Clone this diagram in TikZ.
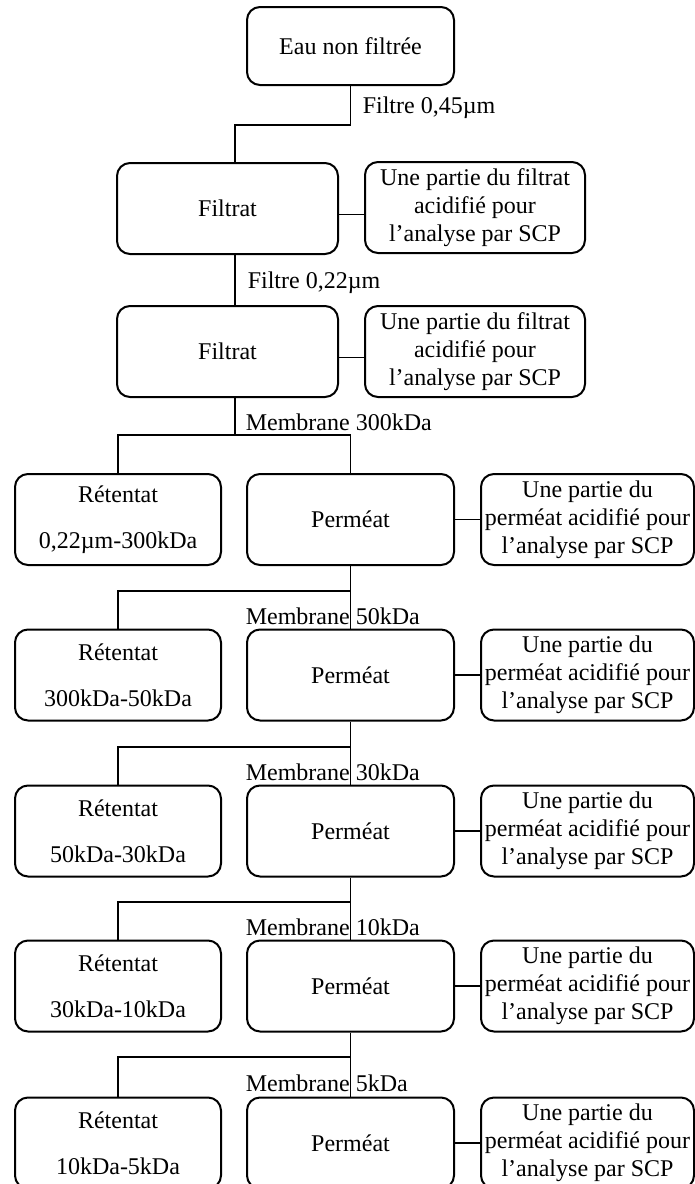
\documentclass[tikz,border=0pt]{standalone}
\usepackage{fontspec}
\setmainfont{Liberation Serif}
\begin{document}
\begin{tikzpicture}[x=0.5pt, y=-0.5pt,
                    line width=0.8pt,
                    every node/.style={font=\fontsize{12}{14}\selectfont},
                    boite/.style={draw, rounded corners=6.5pt, line width=1pt,
                                  align=center, inner sep=1pt, minimum height=45.5pt},
                    etiquette/.style={anchor=west, inner sep=0pt}]
      \useasboundingbox (0,0) rectangle (695,1184);
      \coordinate (tige) at (235,125);
      \coordinate (m1) at (235,435);
      \coordinate (m2) at (350.5,591);
      \coordinate (m3) at (350.5,747);
      \coordinate (m4) at (350.5,902);
      \coordinate (m5) at (350.5,1057);
      % filtration
      \node[boite, minimum width=103.5pt, minimum height=39pt] (eau) at (350.5,46) {Eau non filtrée};
      \node[boite, minimum width=110.5pt] (filtrat1) at (227.5,208.5) {Filtrat};
      \node[boite, minimum width=110pt] (analyse1) at (475,207.5) {Une partie du filtrat\\acidifié pour\\l’analyse par SCP};
      \node[boite, minimum width=110.5pt] (filtrat2) at (227.5,351.5) {Filtrat};
      \node[boite, minimum width=110pt] (analyse2) at (475,351.5) {Une partie du filtrat\\acidifié pour\\l’analyse par SCP};
      \node[etiquette] (filtre45) at (362,108) {Filtre 0,45µm};
      \node[etiquette] (filtre22) at (247,283) {Filtre 0,22µm};
      % ultrafiltration
      \node[boite, minimum width=103pt] (ret1) at (118,519.5) {Rétentat\\[9pt]0,22µm-300kDa};
      \node[boite, minimum width=103.5pt] (per1) at (350.5,519.5) {Perméat};
      \node[boite, minimum width=106.5pt] (analyse3) at (587.5,519.5) {Une partie du\\perméat acidifié pour\\l’analyse par SCP};
      \node[boite, minimum width=103pt] (ret2) at (118,675) {Rétentat\\[9pt]300kDa-50kDa};
      \node[boite, minimum width=103.5pt] (per2) at (350.5,675) {Perméat};
      \node[boite, minimum width=106.5pt] (analyse4) at (587.5,675) {Une partie du\\perméat acidifié pour\\l’analyse par SCP};
      \node[boite, minimum width=103pt] (ret3) at (118,831) {Rétentat\\[9pt]50kDa-30kDa};
      \node[boite, minimum width=103.5pt] (per3) at (350.5,831) {Perméat};
      \node[boite, minimum width=106.5pt] (analyse5) at (587.5,831) {Une partie du\\perméat acidifié pour\\l’analyse par SCP};
      \node[boite, minimum width=103pt] (ret4) at (118,986) {Rétentat\\[9pt]30kDa-10kDa};
      \node[boite, minimum width=103.5pt] (per4) at (350.5,986) {Perméat};
      \node[boite, minimum width=106.5pt] (analyse6) at (587.5,986) {Une partie du\\perméat acidifié pour\\l’analyse par SCP};
      \node[boite, minimum width=103pt] (ret5) at (118,1143) {Rétentat\\[9pt]10kDa-5kDa};
      \node[boite, minimum width=103.5pt] (per5) at (350.5,1143) {Perméat};
      \node[boite, minimum width=106.5pt] (analyse7) at (587.5,1143) {Une partie du\\perméat acidifié pour\\l’analyse par SCP};
      \node[etiquette] (mem300) at (245,422) {Membrane 300kDa};
      \node[etiquette] (mem50) at (245,616) {Membrane 50kDa};
      \node[etiquette] (mem30) at (245,772) {Membrane 30kDa};
      \node[etiquette] (mem10) at (245,927) {Membrane 10kDa};
      \node[etiquette] (mem5) at (245,1083) {Membrane 5kDa};
      % liaisons
      \draw (eau) |- (tige) -- (tige |- filtrat1.north);
      \draw ([yshift=-3pt]filtrat1.east) -- ([yshift=-3pt]filtrat1.east -| analyse1.west);
      \draw (tige |- filtrat1.south) -- (tige |- filtrat2.north);
      \draw ([yshift=-3pt]filtrat2.east) -- ([yshift=-3pt]filtrat2.east -| analyse2.west);
      \draw (m1 |- filtrat2.south) -- (m1);
      \draw (ret1) |- (per1 |- m1) -- (per1);
      \draw (per1) -- (analyse3);
      \draw (per1) -- (per2);
      \draw (ret2) |- (m2);
      \draw (per2) -- (analyse4);
      \draw (per2) -- (per3);
      \draw (ret3) |- (m3);
      \draw (per3) -- (analyse5);
      \draw (per3) -- (per4);
      \draw (ret4) |- (m4);
      \draw (per4) -- (analyse6);
      \draw (per4) -- (per5);
      \draw (ret5) |- (m5);
      \draw (per5) -- (analyse7);
    \end{tikzpicture}
\end{document}
